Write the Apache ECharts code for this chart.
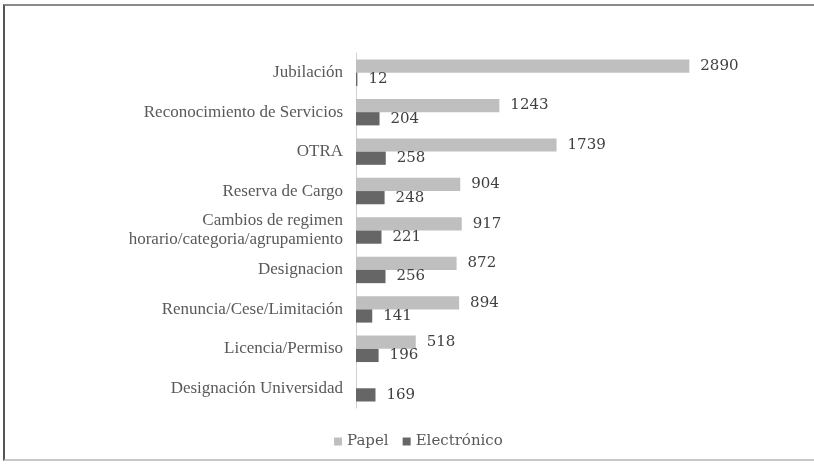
<!DOCTYPE html>
<html>
<head>
<meta charset="utf-8">
<script src="https://cdn.jsdelivr.net/npm/echarts@6/dist/echarts.min.js"></script>
<style>
html,body{margin:0;padding:0;background:#fff;}
#frame{position:absolute;left:3px;top:4px;width:811px;height:457px;border-top:2px solid #8a8a8a;border-left:2px solid #555;border-bottom:2px solid #c8c8c8;box-sizing:border-box;}
#chart{position:absolute;left:0;top:0;width:814px;height:465px;}
</style>
</head>
<body>
<div id="frame"></div>
<div id="chart"></div>
<script>
var categories = ["Jubilación","Reconocimiento de Servicios","OTRA","Reserva de Cargo","Cambios de regimen\nhorario/categoria/agrupamiento","Designacion","Renuncia/Cese/Limitación","Licencia/Permiso","Designación Universidad"];
var papel = [2890,1243,1739,904,917,872,894,518,null];
var electronico = [12,204,258,248,221,256,141,196,169];
var seriesNames = ["Papel","Electrónico"];

var chart = echarts.init(document.getElementById('chart'), null, {renderer:'canvas'});
var labelStyle = {show:true, position:'right', distance:11, color:'#404040', fontFamily:'DejaVu Serif', fontSize:15};
chart.setOption({
  animation:false,
  backgroundColor:'transparent',
  grid:{left:356, top:53, width:346, height:355, containLabel:false},
  xAxis:{type:'value', min:0, max:3000, show:false},
  yAxis:{type:'category', inverse:true, data:categories,
    axisLine:{show:true, lineStyle:{color:'#d0d0d0', width:1}},
    axisTick:{show:false},
    axisLabel:{color:'#595959', fontFamily:'Liberation Serif', fontSize:17, margin:13, lineHeight:19}
  },
  legend:{top:429, left:329, itemWidth:8, itemHeight:8, itemGap:14,
    textStyle:{color:'#595959', fontFamily:'DejaVu Serif', fontSize:15},
    data:[{name:seriesNames[0], icon:'rect'},{name:seriesNames[1], icon:'rect'}]},
  series:[
    {name:seriesNames[0], type:'bar', data:papel, barGap:'0%', barCategoryGap:'33%', itemStyle:{color:'#bfbfbf'}, label:labelStyle},
    {name:seriesNames[1], type:'bar', data:electronico, barGap:'0%', barCategoryGap:'33%', itemStyle:{color:'#666666'}, label:labelStyle}
  ]
});
</script>
</body>
</html>
